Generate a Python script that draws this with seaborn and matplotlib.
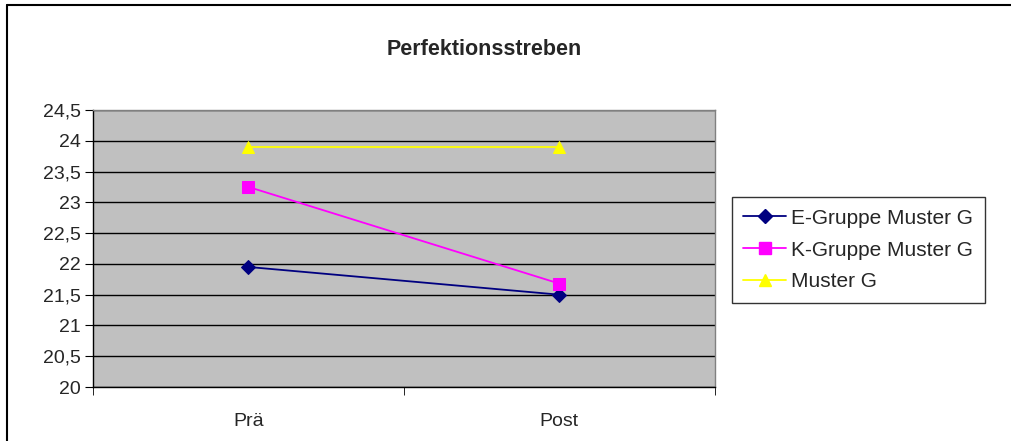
import pandas as pd
import matplotlib
matplotlib.use("Agg")
import matplotlib.pyplot as plt
import seaborn as sns
from matplotlib.lines import Line2D

# Data
zeitpunkte = ["Prä", "Post"]
e_gruppe = [21.95, 21.5]
k_gruppe = [23.25, 21.68]
muster_g = [23.9, 23.9]
reihen = ["E-Gruppe Muster G", "K-Gruppe Muster G", "Muster G"]
y_ticks = [20, 20.5, 21, 21.5, 22, 22.5, 23, 23.5, 24, 24.5]
y_labels = ["20", "20,5", "21", "21,5", "22", "22,5", "23", "23,5", "24", "24,5"]

df = pd.DataFrame({
    "Zeitpunkt": zeitpunkte * 3,
    "Wert": e_gruppe + k_gruppe + muster_g,
    "Reihe": [reihen[0]] * 2 + [reihen[1]] * 2 + [reihen[2]] * 2,
})

sns.set_style("white")
plt.rcParams["font.family"] = ["Liberation Sans", "DejaVu Sans"]

palette = {reihen[0]: "#000080", reihen[1]: "#FF00FF", reihen[2]: "#FFFF00"}
markers = {reihen[0]: "D", reihen[1]: "s", reihen[2]: "^"}
sizes = {reihen[0]: 7, reihen[1]: 8, reihen[2]: 9}

fig = plt.figure(figsize=(10.11, 4.41), dpi=100)
ax = fig.add_axes([0.092, 0.1224, 0.615, 0.6282])
ax.set_facecolor("#C0C0C0")

for r in reihen:
    sub = df[df["Reihe"] == r]
    sns.lineplot(data=sub, x="Zeitpunkt", y="Wert", color=palette[r],
                 marker=markers[r], markersize=sizes[r], markeredgecolor=palette[r],
                 linewidth=1.3, ax=ax, label=r, legend=False, zorder=3)

ax.set_xlim(-0.5, 1.5)
ax.set_ylim(20, 24.5)
ax.set_yticks(y_ticks)
ax.set_yticklabels(y_labels, fontsize=14)
ax.set_xticks([0, 1])
ax.set_xticklabels(zeitpunkte, fontsize=14)
ax.tick_params(axis="x", length=0, pad=19)
ax.set_xticks([-0.5, 0.5, 1.5], minor=True)
ax.tick_params(axis="x", which="minor", length=6, direction="out", color="black", bottom=True)
ax.tick_params(axis="y", length=6, direction="out", color="black", left=True, pad=3)
ax.grid(axis="y", color="black", linewidth=1)
ax.set_axisbelow(True)
ax.set_xlabel("")
ax.set_ylabel("")

for s in ["top", "right"]:
    ax.spines[s].set_color("#808080")
    ax.spines[s].set_linewidth(1)
for s in ["left", "bottom"]:
    ax.spines[s].set_color("black")
    ax.spines[s].set_linewidth(1)

handles = [Line2D([0], [0], color=palette[r], marker=markers[r], markersize=sizes[r],
                  markeredgecolor=palette[r], linewidth=1.3) for r in reihen]
leg = fig.legend(handles, reihen, loc="upper left", bbox_to_anchor=(0.724, 0.553),
                 bbox_transform=fig.transFigure, fontsize=15, frameon=True,
                 fancybox=False, borderaxespad=0, handlelength=2.05,
                 labelspacing=0.62, borderpad=0.55, handletextpad=0.25)
leg.get_frame().set_edgecolor("black")
leg.get_frame().set_linewidth(1)

fig.text(0.479, 0.887, "Perfektionsstreben", fontsize=15.5, fontweight="bold",
         ha="center", va="center")

# outer chart border (only top and left visible)
fig.add_artist(Line2D([7 / 1011, 7 / 1011], [0, 1 - 5 / 441], color="black", linewidth=1.5,
                      transform=fig.transFigure))
fig.add_artist(Line2D([7 / 1011, 1], [1 - 5 / 441, 1 - 5 / 441], color="black", linewidth=1.5,
                      transform=fig.transFigure))

fig.savefig("out.png", dpi=100)
